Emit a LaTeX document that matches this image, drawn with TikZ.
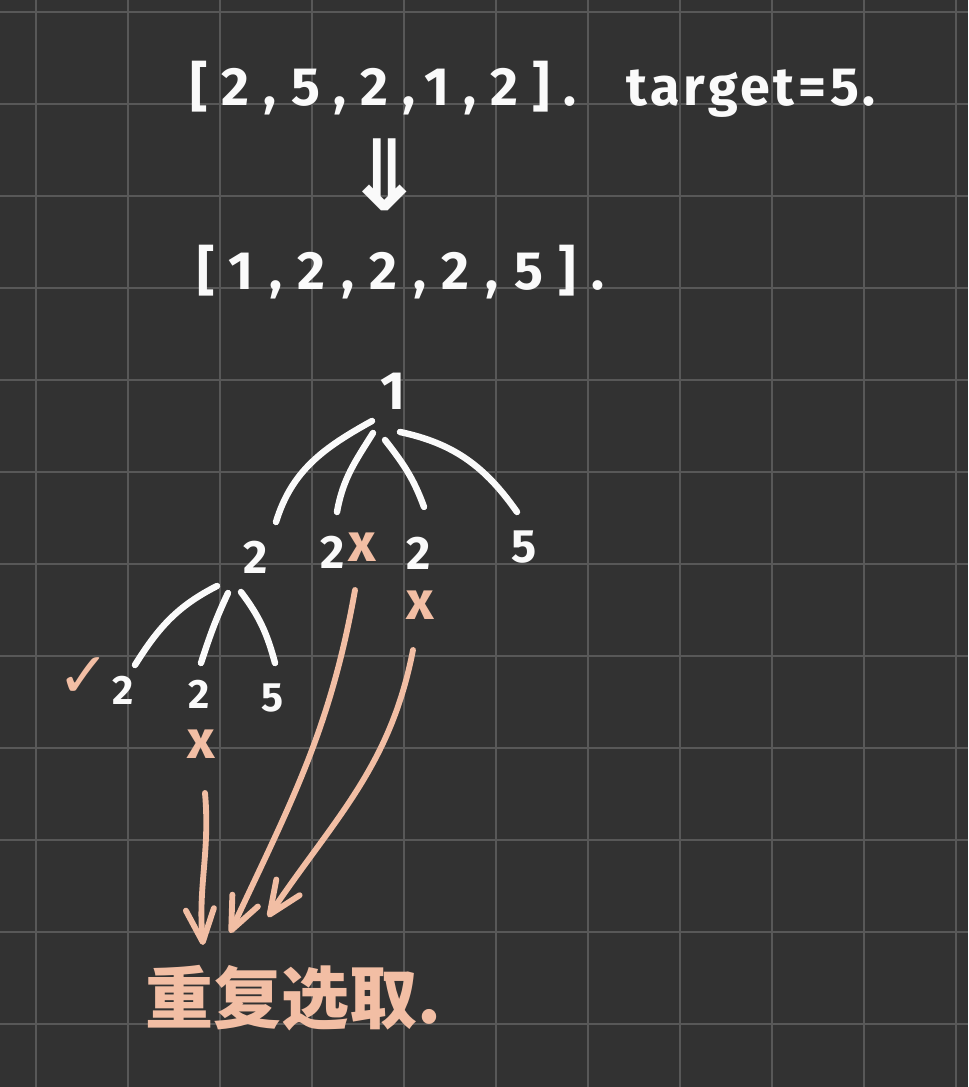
\documentclass[tikz,border=0pt]{standalone}
\usepackage{fontspec}
\setmainfont{Fira Sans}
\newfontfamily\handfont[LetterSpace=26]{Fira Sans}
\newfontfamily\widefont[LetterSpace=29]{Fira Sans}
\newfontfamily\wordfont[LetterSpace=7]{Fira Sans}
\newfontfamily\cjkfont{Noto Sans CJK SC}
\newfontfamily\symfont{DejaVu Sans}
\usetikzlibrary{calc,arrows.meta}
\definecolor{board}{RGB}{50,50,50}
\definecolor{gridline}{RGB}{88,88,88}
\definecolor{chalk}{RGB}{250,250,250}
\definecolor{peach}{RGB}{242,190,164}

\begin{document}
\begin{tikzpicture}[x=0.03cm, y=0.03cm,
    num/.style={text=chalk, inner sep=0pt, font=\bfseries\fontsize{40}{40}\selectfont},
    leafnum/.style={num, font=\bfseries\fontsize{35}{35}\selectfont},
    line/.style={anchor=base west, text=chalk, inner sep=0pt, font=\handfont\bfseries\fontsize{46}{46}\selectfont},
    cross/.style={text=peach, inner sep=0pt, font=\bfseries\fontsize{46}{46}\selectfont},
    branch/.style={chalk, line width=5.5pt, line cap=round},
    pick/.style={peach, line width=5pt, line cap=round,
      -{Straight Barb[length=28pt, width=24pt, line width=5pt, round]}}]
    % Board with grid
    \fill[board] (0,0) rectangle (968,1087);
    \useasboundingbox (0,0) rectangle (968,1087);
    \foreach \gx in {36,128,...,956}
        \draw[gridline, line width=1.7pt] (\gx,0) -- (\gx,1087);
    \foreach \gy in {63,155,...,1075}
        \draw[gridline, line width=1.7pt] (0,\gy) -- (968,\gy);

    % Input, then sorted
    \node[line] (arr) at (190,981) {[2,5,2,1,2].};
    \node[line, font=\wordfont\bfseries\fontsize{46}{46}\selectfont] (tgt) at (626,981) {target=5.};
    \node[text=chalk, inner sep=0pt, font=\symfont\bfseries\fontsize{84}{84}\selectfont] (dn) at (385,912) {⇓};
    \node[line, font=\widefont\bfseries\fontsize{46}{46}\selectfont] (srt) at (197,797) {[1,2,2,2,5].};

    % Search tree
    \node[num, font=\bfseries\fontsize{46}{46}\selectfont] (r) at (393,696) {1};
    \node[num] (a1) at (256,530) {2};
    \node[num] (a2) at (333,535) {2};
    \node[num] (a3) at (419,534) {2};
    \node[num] (a4) at (524,540) {5};
    \node[cross] (xa2) at (362,540) {x};
    \node[cross] (xa3) at (420,482) {x};

    \draw[branch] ([shift={(-21,-30)}]r.center) to[out=209, in=73] ([shift={(20,35)}]a1.center);
    \draw[branch] ([shift={(-20,-42)}]r.center) to[out=238, in=80] ([shift={(4,40)}]a2.center);
    \draw[branch] ([shift={(-8,-49)}]r.center) to[out=308, in=110] ([shift={(5,46)}]a3.center);
    \draw[branch] ([shift={(7,-41)}]r.center) to[out=348, in=125] ([shift={(-7,35)}]a4.center);

    \node[leafnum] (b1) at (123,397) {2};
    \node[leafnum] (b2) at (199,393) {2};
    \node[leafnum] (b3) at (272,389) {5};
    \node[text=peach, inner sep=0pt, font=\symfont\bfseries\fontsize{54}{54}\selectfont] (ck) at (84,409) {✓};
    \node[cross] (xb2) at (201,343) {x};

    \draw[branch] ([shift={(-39,-29)}]a1.center) to[out=207, in=58] ([shift={(12,25)}]b1.center);
    \draw[branch] ([shift={(-28,-36)}]a1.center) to[out=245, in=72] ([shift={(2,31)}]b2.center);
    \draw[branch] ([shift={(-15,-35)}]a1.center) to[out=307, in=105] ([shift={(3,35)}]b3.center);

    % Repeated picks
    \node[anchor=west, text=peach, inner sep=0pt, font=\cjkfont\bfseries\fontsize{58}{58}\selectfont] (rep) at (145,89) {重复选取.};
    \draw[pick] ([shift={(4,-49)}]xb2.center) to[out=-85, in=95] ([shift={(58,53)}]rep.west);
    \draw[pick] ([shift={(-7,-43)}]xa2.center) to[out=260, in=65] ([shift={(85,65)}]rep.west);
    \draw[pick] ([shift={(-7,-45)}]xa3.center) to[out=259, in=56] ([shift={(123,81)}]rep.west);
\end{tikzpicture}
\end{document}
